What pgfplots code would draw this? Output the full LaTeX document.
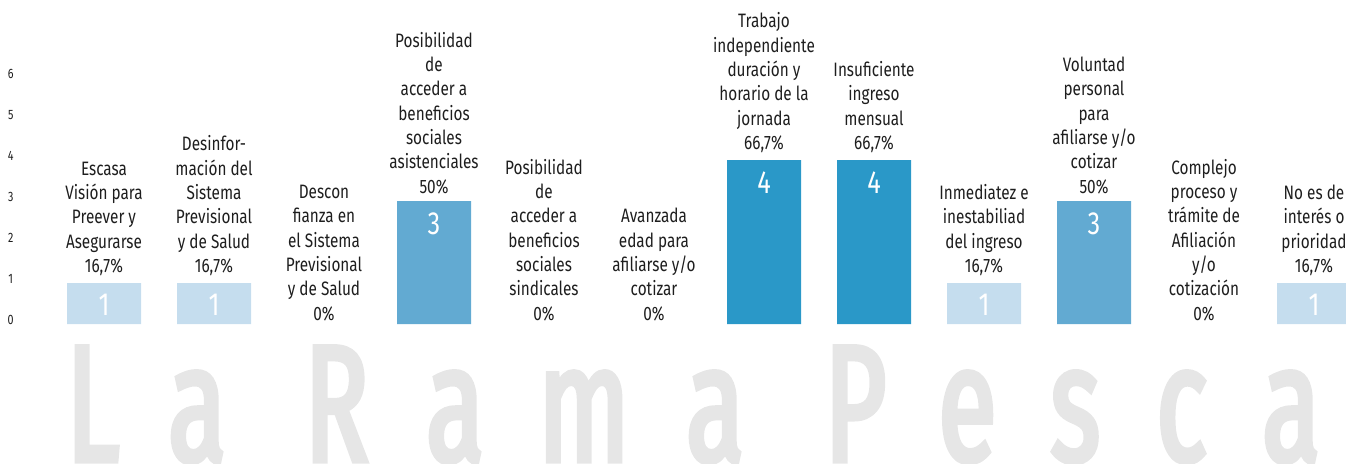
\documentclass[border=0pt]{standalone}
\usepackage{fontspec}
\setmainfont{Fira Sans}[FakeStretch=0.79]
\newfontfamily\wmfont{Fira Sans}[FakeStretch=0.64, FakeBold=3]
\usepackage{pgfplots}
\pgfplotsset{compat=1.18}
\definecolor{barlight}{HTML}{C5DDEE}
\definecolor{barmid}{HTML}{62AAD2}
\definecolor{bardark}{HTML}{2A98C8}
\definecolor{txt}{HTML}{1E1E1E}
\definecolor{wm}{HTML}{E6E6E6}
\begin{document}
\begin{tikzpicture}
\useasboundingbox (0,0) rectangle (673pt,231.5pt);
\clip (0,0) rectangle (673pt,231.5pt);
% watermark
\begin{scope}[every node/.style={anchor=base west, inner sep=0pt, text=wm, font=\wmfont\fontsize{83}{83}\selectfont}]
\node at (33pt,1pt) {L};
\node at (84pt,1pt) {a};
\node at (152pt,1pt) {R};
\node at (213pt,1pt) {a};
\node at (269pt,1pt) {m};
\node at (343pt,1pt) {a};
\node at (412pt,1pt) {P};
\node at (469pt,1pt) {e};
\node at (525pt,1pt) {s};
\node at (578pt,1pt) {c};
\node at (631pt,1pt) {a};
\end{scope}
\begin{axis}[
  at={(11pt,69.5pt)}, anchor=south west,
  scale only axis, width=701pt, height=143.5pt,
  xmin=0.2545, xmax=13, ymin=0, ymax=7,
  clip=false,
  axis lines=left, axis line style={draw=none},
  tick style={draw=none},
  xtick=\empty,
  ytick={0,1,2,3,4,5,6},
  /pgf/number format/assume math mode=true,
  yticklabel style={anchor=center, xshift=-3.5pt, yshift=2pt, text=txt, font=\fontsize{6.8}{8}\selectfont},
]
% bars
\addplot[ybar, bar width=37pt, bar shift=0pt, fill=barlight, draw=none,
  nodes near coords, every node near coord/.append style={anchor=north, yshift=-5.5pt, inner sep=0pt, text=white, font=\fontsize{16}{16}\selectfont}]
  coordinates {(1,1) (2,1) (9,1) (12,1)};
\addplot[ybar, bar width=37pt, bar shift=0pt, fill=barmid, draw=none,
  nodes near coords, every node near coord/.append style={anchor=north, yshift=-5.5pt, inner sep=0pt, text=white, font=\fontsize{16}{16}\selectfont}]
  coordinates {(4,3) (10,3)};
\addplot[ybar, bar width=37pt, bar shift=0pt, fill=bardark, draw=none,
  nodes near coords, every node near coord/.append style={anchor=north, yshift=-5.5pt, inner sep=0pt, text=white, font=\fontsize{16}{16}\selectfont}]
  coordinates {(7,4) (8,4)};
% category labels above bars
\addplot[draw=none, mark=none, point meta=explicit symbolic,
  nodes near coords, every node near coord/.append style={anchor=south, yshift=3.5pt, inner sep=0pt, align=center, text=txt, font=\fontsize{9.7}{12.15}\selectfont}]
  coordinates {
  (1,1) [{Escasa\\Visión para\\Preever y\\Asegurarse\\16,7\%}]
  (2,1) [{Desinfor-\\mación del\\Sistema\\Previsional\\y de Salud\\16,7\%}]
  (4,3) [{Posibilidad\\de\\acceder a\\beneficios\\sociales\\asistenciales\\50\%}]
  (7,4) [{Trabajo\\independiente\\duración y\\horario de la\\jornada\\66,7\%}]
  (8,4) [{Insuficiente\\ingreso\\mensual\\66,7\%}]
  (9,1) [{Inmediatez e\\inestabiliad\\del ingreso\\16,7\%}]
  (10,3) [{Voluntad\\personal\\para\\afiliarse y/o\\cotizar\\50\%}]
  (12,1) [{No es de\\interés o\\prioridad\\16,7\%}]
  };
\addplot[draw=none, mark=none, point meta=explicit symbolic,
  nodes near coords, every node near coord/.append style={anchor=south, yshift=1.5pt, inner sep=0pt, align=center, text=txt, font=\fontsize{9.7}{12.15}\selectfont}]
  coordinates {
  (3,0) [{Descon\\fianza en\\el Sistema\\Previsional\\y de Salud\\0\%}]
  (5,0) [{Posibilidad\\de\\acceder a\\beneficios\\sociales\\sindicales\\0\%}]
  (6,0) [{Avanzada\\edad para\\afiliarse y/o\\cotizar\\0\%}]
  (11,0) [{Complejo\\proceso y\\trámite de\\Afiliación\\y/o\\cotización\\0\%}]
  };
\end{axis}
\end{tikzpicture}
\end{document}
